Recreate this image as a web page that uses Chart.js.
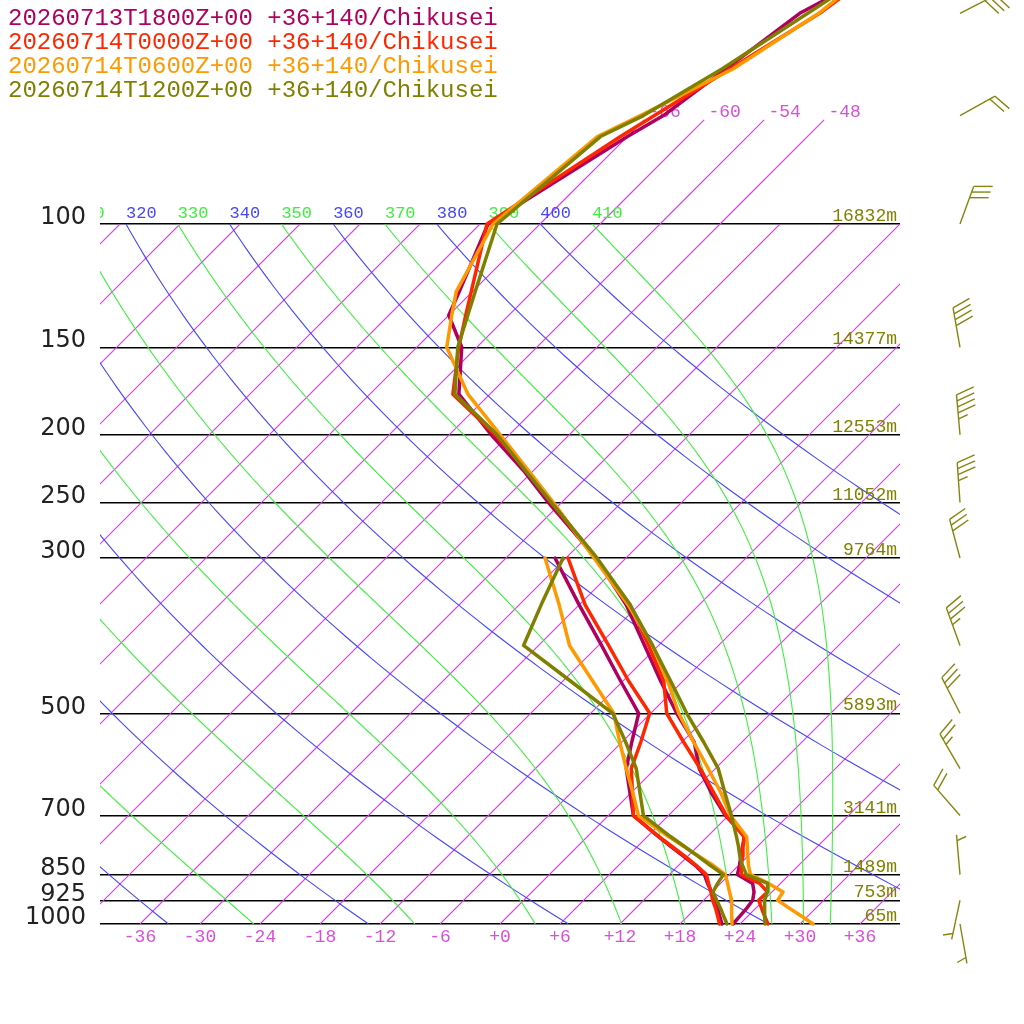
<!DOCTYPE html>
<html><head><meta charset="utf-8">
<script src="https://cdn.jsdelivr.net/npm/chart.js@4.4.1/dist/chart.umd.min.js"></script>
<style>html,body{margin:0;padding:0;background:#fff;}#wrap{width:1024px;height:1024px;position:relative;}</style>
</head><body><div id="wrap"><canvas id="c" width="1024" height="1024"></canvas></div>
<script>
// ---------- data ----------
const seriesNames = [
  "20260713T1800Z+00 +36+140/Chikusei",
  "20260714T0000Z+00 +36+140/Chikusei",
  "20260714T0600Z+00 +36+140/Chikusei",
  "20260714T1200Z+00 +36+140/Chikusei"
];
const seriesColors = ["#b0005f", "#ff2600", "#ff9900", "#808000"];

// pressure levels (hPa) of the temperature profiles
const levels = [1000,975,950,925,900,875,850,825,800,775,750,700,650,600,550,500,450,400,350,300,250,225,200,175,150,135,125,100,75,70,60,50,40];
// temperature (degC) for each run
const temp18 = [23.3,23.2,23.1,22.9,22.2,21.2,18.8,18.1,17.3,16.5,15.75,11.7,8.05,4.4,1.25,-3.4,-8.2,-13.4,-19.3,-27.0,-37.3,-43.0,-49.8,-57.1,-61.5,-66.0,-67.3,-71.2,-66.0,-64.5,-62.9,-61.1,-55.1];
const temp00 = [26.8,25.7,24.6,23.5,23.55,21.9,19.2,18.25,17.5,16.55,15.65,11.8,8.3,4.5,0.2,-4.4,-7.9,-13.0,-18.9,-27.05,-37.0,-42.7,-49.4,-57.7,-61.8,-64.3,-66.1,-71.3,-66.7,-65.4,-62.5,-59.1,-56.7];
const temp06 = [31.3,29.4,27.4,25.4,25.1,22.8,20.1,19.0,18.0,17.0,15.9,12.2,9.0,5.3,1.2,-3.2,-7.5,-12.6,-19.1,-27.2,-36.8,-42.5,-48.9,-56.2,-63.0,-65.7,-67.6,-70.7,-69.0,-66.8,-62.2,-59.2,-57.5];
const temp12 = [26.5,25.7,24.9,24.1,23.5,22.7,19.7,18.4,17.2,16.1,14.9,12.3,9.4,6.3,2.2,-2.4,-7.2,-12.6,-18.9,-26.9,-37.0,-42.8,-49.2,-57.5,-61.9,-64.1,-65.7,-70.3,-68.7,-66.5,-63.3,-60.3,-56.7];
// dewpoint (degC), levels 1000..300
const dew18 = [22.2,21.2,20.2,19.1,17.95,16.7,15.5,13.7,11.55,9.35,7.1,2.5,-0.1,-2.9,-5.0,-7.2,-12.2,-17.7,-24.0,-31.1];
const dew00 = [21.95,21.0,20.0,18.9,17.9,16.8,15.7,13.8,11.7,9.45,7.15,2.5,0.15,-2.4,-4.1,-6.1,-11.4,-17.0,-23.4,-29.8];
const dew06 = [23.2,22.4,21.6,20.8,19.75,18.7,17.6,15.5,13.1,10.65,8.1,3.0,0.2,-2.9,-6.2,-9.7,-15.0,-20.9,-26.0,-32.1];
const dew12 = [22.7,21.6,20.5,19.3,18.1,17.7,17.4,15.2,13.0,10.7,8.3,3.5,0.9,-1.9,-5.6,-9.8,-17.2,-25.5,-27.8,-30.3];

// standard pressure lines with geopotential heights
const pressureLines = [100,150,200,250,300,500,700,850,925,1000];
const heightLabels = ["16832m","14377m","12553m","11052m","9764m","5893m","3141m","1489m","753m","65m"];
// bottom temperature ticks
const tempTicks = [-36,-30,-24,-18,-12,-6,0,6,12,18,24,30,36];
// reference lines
const isotherms = [-108,-102,-96,-90,-84,-78,-72,-66,-60,-54,-48,-42,-36,-30,-24,-18,-12,-6,0,6,12,18,24,30,36];
const isothermTopLabels = [-66,-60,-54,-48];
const dryAdiabats = [200,220,240,260,280,300,320,340,360,380,400];
const moistAdiabats = [210,230,250,270,290,310,330,350,370,390,410];
// winds (12Z run)
const windLevels = [1000,925,850,700,600,500,400,300,250,200,150,100,70,50];
const windDir = [170,192,355,319,330,333,340,345,356,355,350,20,61,63];
const windSpeed = [5,5,5,20,25,30,35,30,35,45,40,30,20,30];

// ---------- helpers ----------
const SKEW = 70, KAPPA = 0.2857;
const skewX = (T, p) => T + SKEW * Math.log10(1000 / p);
const toPts = (arr) => arr.map((t, i) => ({x: skewX(t, levels[i]), y: levels[i]}));

const MONO = "'Liberation Mono', monospace";
const ISO_COLOR = "rgb(208,64,226)", DRY_COLOR = "rgb(70,70,255)", MOIST_COLOR = "rgb(64,238,64)", LABEL_MAG = "rgb(216,80,216)";

function es(Tc){ return 6.112*Math.exp(17.67*Tc/(Tc+243.5)); }
function dTdlnp(T, p){
  const Rd=287.04, Cp=1005.7, Lv=2.501e6, eps=0.622;
  const e = es(T-273.15); const rs = eps*e/(p-e);
  return (Rd*T + Lv*rs)/(Cp + Lv*Lv*rs*eps/(Rd*T*T));
}
function moistCurve(theta){
  let lnp = Math.log(100), T = theta*Math.pow(0.1, KAPPA);
  const n = 160, h = (Math.log(1000)-Math.log(100))/n;
  const pts = [[100, T-273.15]];
  for (let i=0;i<n;i++){
    const p1=Math.exp(lnp), p2=Math.exp(lnp+h/2), p3=Math.exp(lnp+h);
    const k1=dTdlnp(T,p1), k2=dTdlnp(T+h*k1/2,p2), k3=dTdlnp(T+h*k2/2,p2), k4=dTdlnp(T+h*k3,p3);
    T += h*(k1+2*k2+2*k3+k4)/6; lnp += h;
    pts.push([Math.exp(lnp), T-273.15]);
  }
  return pts;
}

const bgPlugin = {
  id: 'skewBg',
  beforeDatasetsDraw(chart){
    const ctx = chart.ctx, a = chart.chartArea, xs = chart.scales.x, ys = chart.scales.y;
    const px = (T,p) => xs.getPixelForValue(skewX(T,p));
    const py = p => ys.getPixelForValue(p);
    ctx.save();
    ctx.beginPath(); ctx.rect(a.left, a.top, a.right-a.left, a.bottom-a.top); ctx.clip();
    ctx.lineWidth = 1.1;
    isotherms.forEach(T => {
      ctx.strokeStyle = ISO_COLOR;
      ctx.beginPath(); ctx.moveTo(px(T,1000), py(1000)); ctx.lineTo(px(T,100), py(100)); ctx.stroke();
    });
    dryAdiabats.forEach(th => {
      ctx.strokeStyle = DRY_COLOR;
      ctx.beginPath();
      for (let i=0;i<=90;i++){ const p = 100*Math.pow(10, i/90); const T = th*Math.pow(p/1000, KAPPA)-273.15;
        if(i===0) ctx.moveTo(px(T,p),py(p)); else ctx.lineTo(px(T,p),py(p)); }
      ctx.stroke();
    });
    moistAdiabats.forEach(th => {
      ctx.strokeStyle = MOIST_COLOR;
      const c = moistCurve(th); ctx.beginPath();
      c.forEach((q,i) => { if(i===0) ctx.moveTo(px(q[1],q[0]),py(q[0])); else ctx.lineTo(px(q[1],q[0]),py(q[0])); });
      ctx.stroke();
    });
    ctx.restore();
    // isotherm extensions above the plot + labels
    ctx.save();
    ctx.lineWidth = 1.1;
    ctx.font = "18px " + MONO; ctx.textAlign = 'left'; ctx.textBaseline = 'alphabetic';
    isothermTopLabels.forEach(T => {
      ctx.strokeStyle = ISO_COLOR;
      ctx.beginPath(); ctx.moveTo(px(T,100), py(100)); ctx.lineTo(px(T,71), py(71)); ctx.stroke();
      ctx.fillStyle = LABEL_MAG;
      ctx.fillText(String(T), px(T,70), py(70)+1);
    });
    ctx.restore();
    // theta labels at 100 hPa
    ctx.save();
    ctx.beginPath(); ctx.rect(a.left, 0, 1024-a.left, 1024); ctx.clip();
    ctx.font = "17px " + MONO; ctx.textAlign='left'; ctx.textBaseline='alphabetic';
    const yl = py(100) - 6;
    dryAdiabats.forEach(th => { const T = th*Math.pow(0.1,KAPPA)-273.15; ctx.fillStyle = DRY_COLOR; ctx.fillText(String(th), px(T,100), yl); });
    moistAdiabats.forEach(th => { const T = th*Math.pow(0.1,KAPPA)-273.15; ctx.fillStyle = MOIST_COLOR; ctx.fillText(String(th), px(T,100), yl); });
    ctx.restore();
    // height labels
    ctx.save();
    ctx.font = "18px " + MONO; ctx.fillStyle = "#808000"; ctx.textAlign='right'; ctx.textBaseline='alphabetic';
    pressureLines.forEach((p,i) => ctx.fillText(heightLabels[i], a.right-3, py(p)-3));
    ctx.restore();
  },
  afterDraw(chart){
    const ctx = chart.ctx, ys = chart.scales.y;
    // legend
    ctx.save();
    ctx.font = "24px " + MONO; ctx.textAlign='left'; ctx.textBaseline='alphabetic';
    seriesNames.forEach((s,i) => { ctx.fillStyle = seriesColors[i]; ctx.fillText(s, 8, 25 + 24*i); });
    ctx.restore();
    // wind barbs
    ctx.save();
    ctx.strokeStyle = "#858510"; ctx.lineWidth = 1.4; ctx.lineCap = 'butt';
    const bx = 960, L = 40, sp = 6, full = 19, half = 10, rot = 70*Math.PI/180;
    windLevels.forEach((p,i) => {
      const by = ys.getPixelForValue(p);
      const d = windDir[i]*Math.PI/180;
      const ux = Math.sin(d), uy = -Math.cos(d);
      const tx = bx + L*ux, ty = by + L*uy;
      ctx.beginPath(); ctx.moveTo(bx,by); ctx.lineTo(tx,ty); ctx.stroke();
      const ang = Math.atan2(uy,ux) + rot;
      const s = windSpeed[i]; const nFull = Math.floor(s/10); const nHalf = (s - nFull*10) >= 5 ? 1 : 0;
      let k = (nFull===0 && nHalf===1) ? 1 : 0;
      const drawBarb = (len) => {
        const sx = tx - k*sp*ux, sy = ty - k*sp*uy;
        ctx.beginPath(); ctx.moveTo(sx,sy); ctx.lineTo(sx+len*Math.cos(ang), sy+len*Math.sin(ang)); ctx.stroke(); k++;
      };
      for (let j=0;j<nFull;j++) drawBarb(full);
      if (nHalf) drawBarb(half);
    });
    ctx.restore();
  }
};

const mk = (arr, color, isDew) => ({
  data: isDew ? arr.map((t,i)=>({x: skewX(t, levels[i]), y: levels[i]})) : toPts(arr),
  showLine: true, borderColor: color, backgroundColor: color, borderWidth: 3.5,
  pointRadius: 0, clip: false, tension: 0, fill: false, borderJoinStyle: 'round', borderCapStyle: 'round'
});

new Chart(document.getElementById('c'), {
  type: 'scatter',
  data: { datasets: [
    mk(temp12, seriesColors[3]), mk(dew12, seriesColors[3], true),
    mk(temp06, seriesColors[2]), mk(dew06, seriesColors[2], true),
    mk(temp00, seriesColors[1]), mk(dew00, seriesColors[1], true),
    mk(temp18, seriesColors[0]), mk(dew18, seriesColors[0], true)
  ]},
  options: {
    responsive: false, animation: false, events: [],
    layout: { padding: { top: 224, right: 124, bottom: 0, left: 0 } },
    plugins: { legend: {display:false}, tooltip: {enabled:false} },
    scales: {
      x: { type: 'linear', position: 'bottom', min: -40, max: 40,
        afterBuildTicks: ax => { ax.ticks = tempTicks.map(v => ({value: v})); },
        afterFit: ax => { ax.height = 100; },
        grid: { display: false }, border: { display: false },
        ticks: { autoSkip: false, maxRotation: 0, padding: -6, color: LABEL_MAG,
          font: { family: "'Liberation Mono', monospace", size: 18 },
          callback: v => (v >= 0 ? '+' : '') + v }
      },
      y: { type: 'logarithmic', position: 'left', reverse: true, min: 100, max: 1000,
        afterBuildTicks: ax => { ax.ticks = pressureLines.map(v => ({value: v})); },
        afterFit: ax => { ax.width = 100; },
        grid: { color: '#000', lineWidth: 1.5, drawTicks: false }, border: { display: false },
        ticks: { padding: 14, color: '#222', labelOffset: -6,
          font: { family: "'DejaVu Sans', sans-serif", size: 24 },
          callback: v => String(v) }
      }
    }
  },
  plugins: [bgPlugin]
});
</script></body></html>
